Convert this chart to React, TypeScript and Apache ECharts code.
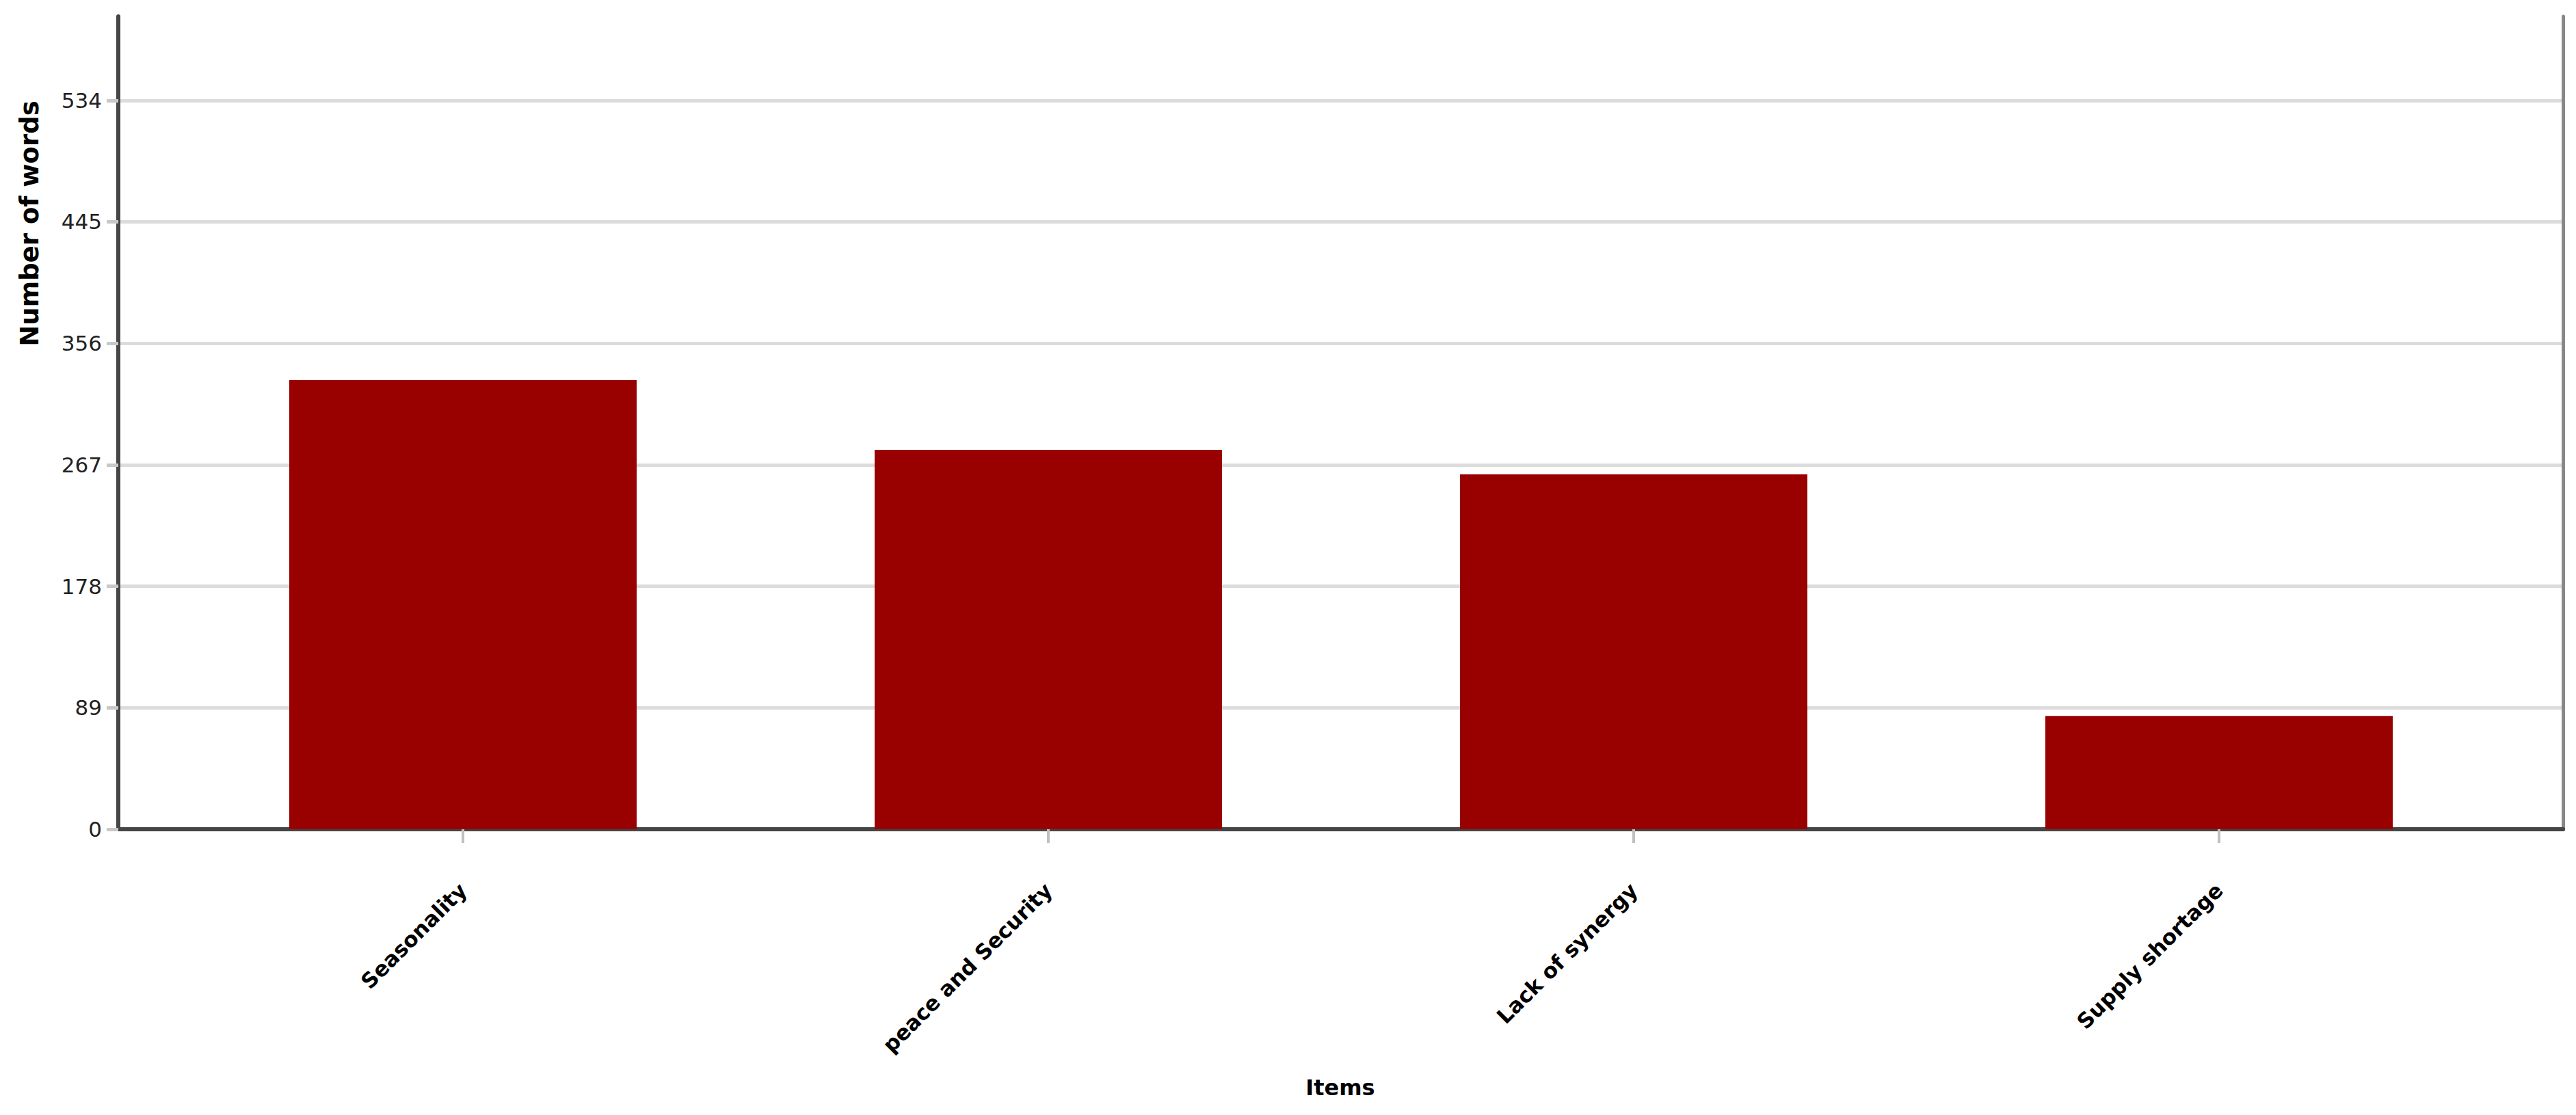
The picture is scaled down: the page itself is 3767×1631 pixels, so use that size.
import React, { useEffect, useRef } from "react";
import * as echarts from "echarts";

const categories = ["Seasonality", "peace and Security", "Lack of synergy", "Supply shortage"];
const values = [329, 278, 260, 83];
const yTicks = [0, 89, 178, 267, 356, 445, 534];
const yMax = 595.5;
const yTitle = "Number of words";
const xTitle = "Items";

const FONT = "'DejaVu Sans', Verdana, sans-serif";

export default function App() {
  const ref = useRef<HTMLDivElement>(null);
  useEffect(() => {
    document.body.style.margin = "0";
    const chart = echarts.init(ref.current!, null, { renderer: "svg" });
    const option: any = {
      animation: false,
      backgroundColor: "#ffffff",
      grid: [
        { left: 173, right: 19, top: 24, bottom: 418 },
        { left: 249, right: 94, top: 24, bottom: 418 },
      ],
      xAxis: [
        {
          gridIndex: 0,
          type: "value",
          min: 0,
          max: 1,
          axisLine: { show: true, onZero: false, lineStyle: { color: "#454545", width: 6 } },
          axisTick: { show: false },
          axisLabel: { show: false },
          splitLine: { show: false },
        },
        {
          gridIndex: 1,
          type: "category",
          data: categories,
          axisLine: { show: false, onZero: false },
          axisTick: { show: true, alignWithLabel: true, length: 20, lineStyle: { color: "#c0c0c0", width: 4 } },
          axisLabel: {
            rotate: 45,
            margin: 84,
            fontSize: 31,
            fontWeight: "bold",
            fontFamily: FONT,
            color: "#000",
            interval: 0,
          },
          splitLine: { show: false },
        },
      ],
      yAxis: [
        {
          gridIndex: 0,
          type: "value",
          min: 0,
          max: yMax,
          interval: 89,
          axisLine: { show: true, onZero: false, lineStyle: { color: "#454545", width: 6 } },
          axisTick: { show: true, length: 17, customValues: yTicks, lineStyle: { color: "#c8c8c8", width: 5 } },
          axisLabel: {
            margin: 24,
            fontSize: 31,
            color: "#222",
            fontFamily: FONT,
            customValues: yTicks,
          },
          splitLine: { show: true, showMinLine: false, lineStyle: { color: "#dcdcdc", width: 5 } },
        },
        {
          gridIndex: 0,
          type: "value",
          position: "right",
          min: 0,
          max: 1,
          axisLine: { show: true, onZero: false, lineStyle: { color: "#888888", width: 5 } },
          axisTick: { show: false },
          axisLabel: { show: false },
          splitLine: { show: false },
        },
        {
          gridIndex: 1,
          type: "value",
          min: 0,
          max: yMax,
          show: false,
          splitLine: { show: false },
        },
      ],
      series: [
        {
          type: "bar",
          xAxisIndex: 1,
          yAxisIndex: 2,
          data: values,
          barWidth: 508,
          itemStyle: { color: "#990000" },
        },
      ],
      graphic: [
        {
          type: "text",
          x: 43,
          y: 327,
          rotation: Math.PI / 2,
          style: {
            text: yTitle,
            fontSize: 37,
            fontWeight: "bold",
            fontFamily: FONT,
            fill: "#000",
            align: "center",
            verticalAlign: "middle",
          },
        },
        {
          type: "text",
          x: 1960,
          y: 1591,
          style: {
            text: xTitle,
            fontSize: 32,
            fontWeight: "bold",
            fontFamily: FONT,
            fill: "#000",
            align: "center",
            verticalAlign: "middle",
          },
        },
      ],
    };
    chart.setOption(option);
    return () => chart.dispose();
  }, []);
  return <div ref={ref} style={{ width: 3767, height: 1631 }} />;
}
